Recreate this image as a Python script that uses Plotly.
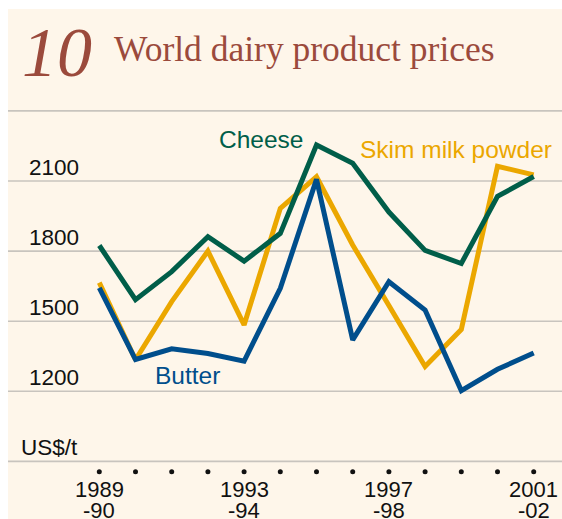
import plotly.graph_objects as go

years = [1989, 1990, 1991, 1992, 1993, 1994, 1995, 1996, 1997, 1998, 1999, 2000, 2001]
cheese = [1824, 1592, 1712, 1862, 1757, 1876, 2254, 2176, 1967, 1803, 1747, 2034, 2119]
skim_milk = [1665, 1335, 1584, 1800, 1484, 1983, 2118, 1826, 1567, 1306, 1464, 2163, 2126]
butter = [1643, 1336, 1382, 1362, 1329, 1641, 2107, 1420, 1669, 1548, 1203, 1294, 1364]
tick_years = [1989, 1993, 1997, 2001]
tick_line1 = ["1989", "1993", "1997", "2001"]
tick_line2 = ["-90", "-94", "-98", "-02"]
grid_values = [900, 1200, 1500, 1800, 2100, 2400]
grid_labels = ["US$/t", "1200", "1500", "1800", "2100", ""]
dot_level = 856

W, H = 562, 519
PANEL_X, PANEL_Y = 8, 9
BG = "#FEF6EA"
GREEN = "#005E49"
ORANGE = "#EBA700"
BLUE = "#004E8C"
TITLE = "#9B4A3C"
GRID = "#C8C4BE"
SANS = "Liberation Sans, Arial, sans-serif"
SERIF = "Liberation Serif, Times New Roman, serif"


def px(x):
    return x / W


def py(y):
    return 1 - y / H


fig = go.Figure()

# cream panel with white border strip at top/left
fig.add_shape(type="rect", xref="paper", yref="paper", x0=px(PANEL_X), x1=1.0,
              y0=0, y1=py(PANEL_Y), fillcolor=BG, line_width=0, layer="below")

# gridlines (full panel width)
for v in grid_values:
    fig.add_shape(type="line", xref="paper", yref="y", x0=px(PANEL_X), x1=1.0,
                  y0=v, y1=v, line=dict(color=GRID, width=1.6), layer="below")

for v, lab in zip(grid_values, grid_labels):
    if not lab:
        continue
    unit = lab.startswith("US")
    fig.add_annotation(x=px(20 if unit else 80), xref="paper",
                       xanchor="left" if unit else "right",
                       y=v, yref="y", yanchor="bottom",
                       text=lab, showarrow=False, borderpad=0,
                       font=dict(family=SANS, size=22.5, color="#111111"))

fig.add_trace(go.Scatter(x=years, y=skim_milk, mode="lines",
                         line=dict(color=ORANGE, width=5), hoverinfo="skip"))
fig.add_trace(go.Scatter(x=years, y=cheese, mode="lines",
                         line=dict(color=GREEN, width=5), hoverinfo="skip"))
fig.add_trace(go.Scatter(x=years, y=butter, mode="lines",
                         line=dict(color=BLUE, width=5), hoverinfo="skip"))
fig.add_trace(go.Scatter(x=years, y=[dot_level] * len(years), mode="markers",
                         marker=dict(color="#111111", size=5), hoverinfo="skip"))

# tick labels (two lines, tight spacing)
for x, l1, l2 in zip(tick_years, tick_line1, tick_line2):
    fig.add_annotation(x=x, xref="x", y=py(489), yref="paper", yanchor="middle",
                       text=l1, showarrow=False, borderpad=0,
                       font=dict(family=SANS, size=22, color="#111111"))
    fig.add_annotation(x=x, xref="x", y=py(510), yref="paper", yanchor="middle",
                       text=l2, showarrow=False, borderpad=0,
                       font=dict(family=SANS, size=22, color="#111111"))

# series labels
fig.add_annotation(x=px(217), xref="paper", xanchor="left", y=py(139), yref="paper",
                   yanchor="middle", text="Cheese", showarrow=False,
                   font=dict(family=SANS, size=24.5, color=GREEN))
fig.add_annotation(x=px(358), xref="paper", xanchor="left", y=py(150), yref="paper",
                   yanchor="middle", text="Skim milk powder", showarrow=False,
                   font=dict(family=SANS, size=24.5, color=ORANGE))
fig.add_annotation(x=px(153), xref="paper", xanchor="left", y=py(375), yref="paper",
                   yanchor="middle", text="Butter", showarrow=False,
                   font=dict(family=SANS, size=24.5, color=BLUE))

# title
fig.add_annotation(x=px(20), xref="paper", xanchor="left", y=py(52), yref="paper",
                   yanchor="middle", text="<i>10</i>", showarrow=False,
                   font=dict(family=SERIF, size=70, color=TITLE))
fig.add_annotation(x=px(112), xref="paper", xanchor="left", y=py(49), yref="paper",
                   yanchor="middle", text="World dairy product prices", showarrow=False,
                   font=dict(family=SERIF, size=35.5, color=TITLE))

# axis mapping (page pixels -> data)
ppu = 70.1 / 300
y_top = 2100 + 181 / ppu
y_bot = 2100 - (H - 181) / ppu
x0_px, step = 99.3, 36.2
x_left = 1989 - x0_px / step
x_right = 1989 + (W - x0_px) / step

fig.update_layout(
    width=W, height=H,
    margin=dict(l=0, r=0, t=0, b=0),
    paper_bgcolor="white", plot_bgcolor="rgba(0,0,0,0)",
    showlegend=False,
    xaxis=dict(range=[x_left, x_right], visible=False, fixedrange=True),
    yaxis=dict(range=[y_bot, y_top], visible=False, fixedrange=True),
)

fig.write_html(
    "out.html",
    config={"displayModeBar": False, "staticPlot": True},
    post_script="document.documentElement.style.overflow='hidden';"
                "document.body.style.overflow='hidden';"
                "document.body.style.margin='0';",
)
